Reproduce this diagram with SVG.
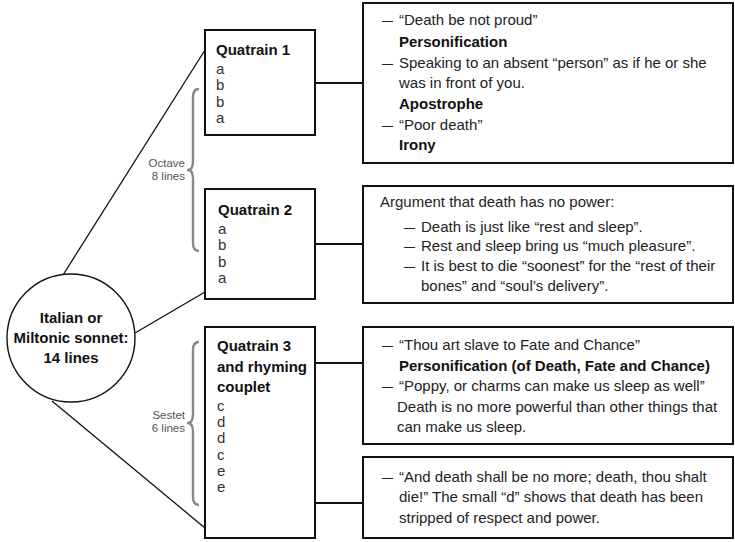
<svg xmlns="http://www.w3.org/2000/svg" width="735" height="542" viewBox="0 0 735 542">
<style>
.box{fill:#fff;stroke:#111;stroke-width:2}
.circ{fill:#fff;stroke:#111;stroke-width:1.4}
.diag{stroke:#111;stroke-width:1.3;fill:none}
.conn{stroke:#111;stroke-width:2;fill:none}
.brace{stroke:#888;stroke-width:2.4;fill:none;stroke-linejoin:round}
text{font-family:"Liberation Sans",Arial,sans-serif;font-size:15px;fill:#222}
.b{font-weight:bold;fill:#111}
.lab{font-size:11.5px;fill:#555;text-anchor:end}
.rh{fill:#333}
</style>
<rect width="735" height="542" fill="#fff"/>
<g id="connectors">
<line class="diag" x1="63" y1="275" x2="205" y2="50"/>
<line class="diag" x1="135" y1="333" x2="205" y2="292"/>
<line class="diag" x1="52" y1="401" x2="205" y2="528"/>
<line class="conn" x1="315" y1="83" x2="363" y2="83"/>
<line class="conn" x1="315" y1="244" x2="363" y2="244"/>
<line class="conn" x1="315" y1="363" x2="363" y2="363"/>
<line class="conn" x1="315" y1="503" x2="363" y2="503"/>
</g>
<g id="sonnet">
<circle class="circ" cx="71" cy="338" r="64"/>
<text class="b" x="71" y="323" text-anchor="middle">Italian or</text>
<text class="b" x="71" y="343" text-anchor="middle">Miltonic sonnet:</text>
<text class="b" x="71" y="363" text-anchor="middle">14 lines</text>
</g>
<g id="octave">
<path class="brace" d="M199,89 Q193,89 193,97 L193,161 Q193,170 188,170 Q193,170 193,179 L193,243 Q193,251 199,251"/>
<text class="lab" x="185" y="167">Octave</text>
<text class="lab" x="185" y="180">8 lines</text>
</g>
<g id="sestet">
<path class="brace" d="M199,342 Q193,342 193,350 L193,414 Q193,423 188,423 Q193,423 193,432 L193,497 Q193,505 199,505"/>
<text class="lab" x="185" y="419">Sestet</text>
<text class="lab" x="185" y="432">6 lines</text>
</g>
<g id="quatrain1">
<rect class="box" x="205" y="30" width="110" height="105"/>
<text class="b" x="216" y="55">Quatrain 1</text>
<text class="rh" x="216" y="74">a</text>
<text class="rh" x="216" y="90">b</text>
<text class="rh" x="216" y="107">b</text>
<text class="rh" x="216" y="123">a</text>
</g>
<g id="quatrain2">
<rect class="box" x="205" y="189" width="110" height="110"/>
<text class="b" x="218" y="215">Quatrain 2</text>
<text class="rh" x="218" y="234">a</text>
<text class="rh" x="218" y="250">b</text>
<text class="rh" x="218" y="267">b</text>
<text class="rh" x="218" y="283">a</text>
</g>
<g id="quatrain3">
<rect class="box" x="205" y="327" width="110" height="211"/>
<text class="b" x="217" y="351">Quatrain 3</text>
<text class="b" x="217" y="372">and rhyming</text>
<text class="b" x="217" y="392">couplet</text>
<text class="rh" x="217" y="411">c</text>
<text class="rh" x="217" y="427">d</text>
<text class="rh" x="217" y="443">d</text>
<text class="rh" x="217" y="460">c</text>
<text class="rh" x="217" y="476">e</text>
<text class="rh" x="217" y="492">e</text>
</g>
<g id="notes1">
<rect class="box" x="363" y="3" width="370" height="160"/>
<text x="382" y="25" textLength="11" lengthAdjust="spacingAndGlyphs">—</text><text x="399" y="25">“Death be not proud”</text>
<text class="b" x="399" y="47">Personification</text>
<text x="382" y="68" textLength="11" lengthAdjust="spacingAndGlyphs">—</text><text x="399" y="68">Speaking to an absent “person” as if he or she</text>
<text x="399" y="88">was in front of you.</text>
<text class="b" x="399" y="109">Apostrophe</text>
<text x="382" y="130" textLength="11" lengthAdjust="spacingAndGlyphs">—</text><text x="399" y="130">“Poor death”</text>
<text class="b" x="399" y="150">Irony</text>
</g>
<g id="notes2">
<rect class="box" x="363" y="186" width="370" height="117"/>
<text x="380" y="207">Argument that death has no power:</text>
<text x="404" y="232" textLength="11" lengthAdjust="spacingAndGlyphs">—</text><text x="421" y="232">Death is just like “rest and sleep”.</text>
<text x="404" y="251" textLength="11" lengthAdjust="spacingAndGlyphs">—</text><text x="421" y="251">Rest and sleep bring us “much pleasure”.</text>
<text x="404" y="271" textLength="11" lengthAdjust="spacingAndGlyphs">—</text><text x="421" y="271">It is best to die “soonest” for the “rest of their</text>
<text x="421" y="291">bones” and “soul’s delivery”.</text>
</g>
<g id="notes3">
<rect class="box" x="363" y="327" width="370" height="117"/>
<text x="382" y="350" textLength="11" lengthAdjust="spacingAndGlyphs">—</text><text x="399" y="350">“Thou art slave to Fate and Chance”</text>
<text class="b" x="399" y="371">Personification (of Death, Fate and Chance)</text>
<text x="382" y="391" textLength="11" lengthAdjust="spacingAndGlyphs">—</text><text x="399" y="391">“Poppy, or charms can make us sleep as well”</text>
<text x="397" y="412">Death is no more powerful than other things that</text>
<text x="397" y="432">can make us sleep.</text>
</g>
<g id="notes4">
<rect class="box" x="363" y="457" width="370" height="81"/>
<text x="382" y="482" textLength="11" lengthAdjust="spacingAndGlyphs">—</text><text x="399" y="482">“And death shall be no more; death, thou shalt</text>
<text x="399" y="502">die!” The small “d” shows that death has been</text>
<text x="399" y="523">stripped of respect and power.</text>
</g>
</svg>
